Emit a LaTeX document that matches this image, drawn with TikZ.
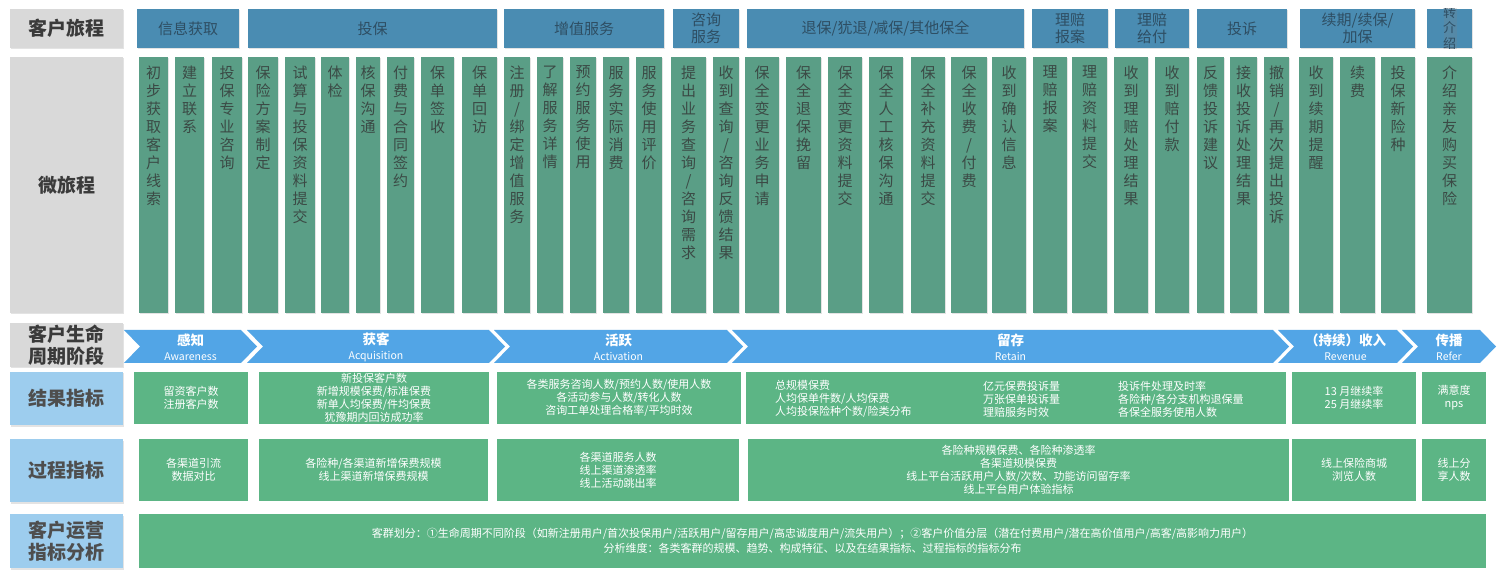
\documentclass[tikz,border=0pt]{standalone}
\usepackage{fontspec}
\setmainfont{Noto Sans CJK SC}
\usetikzlibrary{positioning, shadows}
\definecolor{jgray}{HTML}{D9D9D9}
\definecolor{jdark}{HTML}{3A3A3A}
\definecolor{jhead}{HTML}{4A8CB2}
\definecolor{jheadtxt}{HTML}{2E4E63}
\definecolor{jcol}{HTML}{5A9E86}
\definecolor{jcoltxt}{HTML}{3B4A45}
\definecolor{jchev}{HTML}{52A5E6}
\definecolor{jlblue}{HTML}{9DCDEE}
\definecolor{jkpi}{HTML}{5CB585}

% one character per line
\makeatletter
\newcommand\vtxt[1]{\edef\vtxt@tmp{#1}\expandafter\vtxt@a\vtxt@tmp\@nil}
\def\vtxt@a#1{#1\vtxt@b}
\def\vtxt@b#1{\ifx#1\@nil\else\\#1\expandafter\vtxt@b\fi}
\makeatother

\begin{document}
\begin{tikzpicture}[
    x=1pt, y=-1pt, font=\fontsize{11}{13}\selectfont,
    shade/.style={drop shadow={shadow xshift=1pt, shadow yshift=-1.5pt, opacity=0.22}},
    sidelbl/.style={fill=jgray, text=jdark, font=\bfseries\fontsize{19}{22}\selectfont,
                align=center, inner sep=0, minimum width=113pt, shade},
    kpilbl/.style={sidelbl, fill=jlblue, text=jdark!90},
    hdr/.style={fill=jhead, text=jheadtxt, font=\fontsize{15}{17}\selectfont,
                align=center, inner sep=0, minimum height=39pt, shade},
    col/.style={fill=jcol, inner sep=0, minimum height=256pt, shade},
    coltxt/.style={text=jcoltxt, font=\fontsize{15}{18}\selectfont, align=center, inner sep=0},
    chevtxt/.style={text=white, font=\fontsize{13.5}{15}\selectfont, align=center, inner sep=0},
    kpitxt/.style={text=white, font=\fontsize{11}{13}\selectfont, inner sep=0},
    kpi/.style={kpitxt, fill=jkpi, align=center}
]
\fill[white] (0,0) rectangle (1500,577);
\useasboundingbox (0,0) rectangle (1500,577);

% row labels
\node[sidelbl, minimum height=39pt]  (jny)    at (66.5,28.5) {客户旅程};
\node[sidelbl, minimum height=256pt] (micro)  at (66.5,185)  {微旅程};
\node[sidelbl, minimum height=44pt]  (stage)  at (66.5,345)  {客户生命\\周期阶段};
\node[kpilbl,  minimum height=53pt]  (result) at (66.5,398.5) {结果指标};
\node[kpilbl,  minimum height=63pt]  (proc)   at (66.5,470.5) {过程指标};
\node[kpilbl,  minimum height=54pt]  (ops)    at (66.5,541)  {客户运营\\指标分析};

% journey headers
\foreach \a/\b/\t [count=\i] in {137/239/信息获取, 248/497/投保, 504/664/增值服务,
    673/739/{咨询\\服务}, 747/1024/{退保/犹退/减保/其他保全}, 1032/1108/{理赔\\报案},
    1115/1189/{理赔\\给付}, 1197/1287/投诉, 1300/1415/{续期/续保/\\加保}}{
    \pgfmathsetmacro\w{\b-\a}
    \node[hdr, minimum width=\w pt] (hd\i) at ({(\a+\b)/2},28.5) {\t};
}
\node[hdr, minimum width=45pt] (hd10) at (1449.5,28.5) {};
\begin{scope}
    \clip (hd10.north west) rectangle (hd10.south east);
    \node[hdr, fill=none, font=\fontsize{13}{15.5}\selectfont] (hd10t) at (1449.5,28) {转\\介\\绍};
\end{scope}

% micro journey columns
\foreach \a/\b/\t [count=\i] in {139/168/初步获取客户线索, 175/204/建立联系, 212/242/投保专业咨询,
    248/278/保险方案制定, 285/315/试算与投保资料提交, 321/349/体检, 356/380/核保沟通,
    387/414/付费与合同签约, 421/454/保单签收, 462/497/保单回访,
    504/530/{注册/绑定增值服务}, 537/563/了解服务详情, 570/596/预约服务使用,
    603/629/服务实际消费, 636/662/服务使用评价,
    671/706/{提出业务查询/咨询需求}, 713/739/{收到查询/咨询反馈结果},
    745/779/保全变更业务申请, 786/821/保全退保挽留, 828/862/保全变更资料提交,
    869/903/保全人工核保沟通, 911/945/保全补充资料提交, 951/987/{保全收费/付费},
    992/1026/收到确认信息, 1033/1067/理赔报案, 1072/1107/理赔资料提交,
    1114/1148/收到理赔处理结果, 1155/1189/收到赔付款, 1197/1224/反馈投诉建议,
    1230/1257/接收投诉处理结果, 1264/1289/{撤销/再次提出投诉}, 1299/1333/收到续期提醒,
    1340/1375/续费, 1381/1415/投保新险种, 1427/1472/介绍亲友购买保险}{
    \pgfmathsetmacro\w{\b-\a}
    \node[col, minimum width=\w pt] (col\i) at ({(\a+\b)/2},185) {};
    \node[coltxt, below=9pt of col\i.north] (ct\i) {\vtxt{\t}};
}

% lifecycle stages
\foreach \l/\r/\cn/\en [count=\i] in {124/241/感知/Awareness, 247/489/获客/Acquisition,
    494/727/活跃/Activation, 732/1273/留存/Retain, 1278/1397/（持续）收入/Revenue,
    1402/1480/传播/Refer}{
    \fill[jchev] (\l,330) -- (\r,330) -- (\r+16,346.5) -- (\r,363) -- (\l,363)
        -- (\l+16,346.5) -- cycle;
    \node[chevtxt] (stg\i) at ({(\l+\r)/2+8},347.5) {\textbf{\cn}\\{\fontsize{10.5}{12}\selectfont \en}};
}

% result indicators
\foreach \a/\b/\t [count=\i] in {134/248/{留资客户数\\注册客户数},
    259/489/{新投保客户数\\新增规模保费/标准保费\\新单人均保费/件均保费\\犹豫期内回访成功率},
    497/741/{各类服务咨询人数/预约人数/使用人数\\各活动参与人数/转化人数\\咨询工单处理合格率/平均时效},
    746/1286/{}, 1292/1416/{13 月继续率\\25 月继续率}, 1422/1486/{满意度\\nps}}{
    \pgfmathsetmacro\w{\b-\a}
    \node[kpi, minimum width=\w pt, minimum height=52pt] (res\i) at ({(\a+\b)/2},398) {\t};
}
\node[kpitxt, align=left, anchor=west] (res4a) at (775,399) {总规模保费\\人均保单件数/人均保费\\人均投保险种个数/险类分布};
\node[kpitxt, align=left, anchor=west] (res4b) at (983,399) {亿元保费投诉量\\万张保单投诉量\\理赔服务时效};
\node[kpitxt, align=left, anchor=west] (res4c) at (1118,399) {投诉件处理及时率\\各险种/各分支机构退保量\\各保全服务使用人数};

% process indicators
\foreach \a/\b/\t [count=\i] in {139/248/{各渠道引流\\数据对比},
    259/488/{各险种/各渠道新增保费规模\\线上渠道新增保费规模},
    497/739/{各渠道服务人数\\线上渠道渗透率\\线上活动跳出率},
    748/1289/{各险种规模保费、各险种渗透率\\各渠道规模保费\\线上平台活跃用户人数/次数、功能访问留存率\\线上平台用户体验指标},
    1292/1416/{线上保险商城\\浏览人数}, 1422/1486/{线上分\\享人数}}{
    \pgfmathsetmacro\w{\b-\a}
    \node[kpi, minimum width=\w pt, minimum height=62pt] (prc\i) at ({(\a+\b)/2},470) {\t};
}

% customer operations
\node[kpi, minimum width=1347pt, minimum height=54pt, font=\fontsize{11}{15}\selectfont] (grp) at (812.5,541)
    {客群划分：①生命周期不同阶段（如新注册用户/首次投保用户/活跃用户/留存用户/高忠诚度用户/流失用户）；②客户价值分层（潜在付费用户/潜在高价值用户/高客/高影响力用户）\\分析维度：各类客群的规模、趋势、构成特征、以及在结果指标、过程指标的指标分布};
\end{tikzpicture}
\end{document}
